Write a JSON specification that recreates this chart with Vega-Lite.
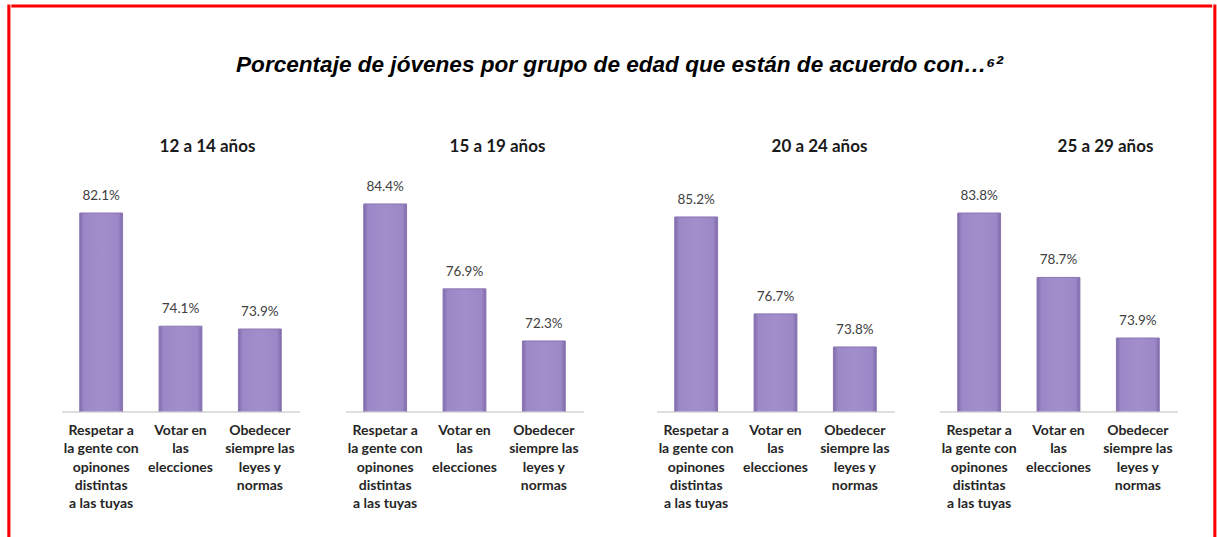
{
  "$schema": "https://vega.github.io/schema/vega-lite/v6.json",
  "background": "white",
  "padding": {"left": 6.8, "top": 4, "right": 0, "bottom": 0},
  "data": {"values": [
    {"grupo": "12 a 14 años", "item": "Respetar a la gente con opinones distintas a las tuyas", "valor": 0.821},
    {"grupo": "12 a 14 años", "item": "Votar en las elecciones", "valor": 0.741},
    {"grupo": "12 a 14 años", "item": "Obedecer siempre las leyes y normas", "valor": 0.739},
    {"grupo": "15 a 19 años", "item": "Respetar a la gente con opinones distintas a las tuyas", "valor": 0.844},
    {"grupo": "15 a 19 años", "item": "Votar en las elecciones", "valor": 0.769},
    {"grupo": "15 a 19 años", "item": "Obedecer siempre las leyes y normas", "valor": 0.723},
    {"grupo": "20 a 24 años", "item": "Respetar a la gente con opinones distintas a las tuyas", "valor": 0.852},
    {"grupo": "20 a 24 años", "item": "Votar en las elecciones", "valor": 0.767},
    {"grupo": "20 a 24 años", "item": "Obedecer siempre las leyes y normas", "valor": 0.738},
    {"grupo": "25 a 29 años", "item": "Respetar a la gente con opinones distintas a las tuyas", "valor": 0.838},
    {"grupo": "25 a 29 años", "item": "Votar en las elecciones", "valor": 0.787},
    {"grupo": "25 a 29 años", "item": "Obedecer siempre las leyes y normas", "valor": 0.739}
  ]},
  "spacing": 0,
  "hconcat": [
    {"data": {"values": []}, "mark": "point", "width": 0.1, "height": 530, "view": {"stroke": "#ff0000", "strokeWidth": 3}},
    {
      "spacing": 46,
      "vconcat": [
        {"data": {"values": []}, "mark": "point", "width": 1197.9, "height": 0.1, "view": {"stroke": "#ff0000", "strokeWidth": 3}},
        {
          "spacing": 47.7,
          "hconcat": [
            {"data": {"values": []}, "mark": "point", "width": 0.1, "height": 1, "view": {"stroke": "transparent"}},
            {
              "title": {"text": "Porcentaje de jóvenes por grupo de edad que están de acuerdo con…⁶²", "font": "Liberation Sans", "fontSize": 22.6, "fontStyle": "italic", "fontWeight": "bold", "color": "#000000", "anchor": "middle", "offset": 61},
              "spacing": 73,
              "hconcat": [
                {
                  "spacing": 46,
                  "hconcat": [
                    {
                      "width": 238, "height": 240.5,
                      "title": {"text": "12 a 14 años", "dx": 27},
                      "transform": [{"filter": "datum.grupo == '12 a 14 años'"}],
                      "encoding": {"x": {"field": "item", "type": "nominal", "sort": null, "scale": {"paddingInner": 0.46, "paddingOuter": 0.23},
                        "axis": {"labelExpr": "datum.value == 'Votar en las elecciones' ? ['Votar en', 'las', 'elecciones'] : datum.value == 'Obedecer siempre las leyes y normas' ? ['Obedecer', 'siempre las', 'leyes y', 'normas'] : ['Respetar a', 'la gente con', 'opinones', 'distintas', 'a las tuyas']"}}},
                      "layer": [
                        {"mark": {"type": "bar", "clip": true, "stroke": "#8a75b4", "strokeWidth": 1, "fill": {"gradient": "linear", "x1": 0, "y1": 0, "x2": 1, "y2": 0, "stops": [{"offset": 0, "color": "#7f6aaa"}, {"offset": 0.1, "color": "#9d88c7"}, {"offset": 0.5, "color": "#a38ecc"}, {"offset": 0.9, "color": "#9d88c7"}, {"offset": 1, "color": "#7f6aaa"}]}},
                          "encoding": {"y": {"field": "valor", "type": "quantitative", "scale": {"domain": [0.6807, 0.8507], "nice": false, "zero": false}, "axis": null}}},
                        {"mark": {"type": "text", "dy": -13, "baseline": "alphabetic", "font": "Lato", "fontSize": 13.5, "color": "#404040"},
                          "encoding": {"y": {"field": "valor", "type": "quantitative"}, "text": {"field": "valor", "type": "quantitative", "format": ".1%"}}}
                      ]
                    },
                    {
                      "width": 238, "height": 240.5,
                      "title": {"text": "15 a 19 años", "dx": 33},
                      "transform": [{"filter": "datum.grupo == '15 a 19 años'"}],
                      "encoding": {"x": {"field": "item", "type": "nominal", "sort": null, "scale": {"paddingInner": 0.46, "paddingOuter": 0.23},
                        "axis": {"labelExpr": "datum.value == 'Votar en las elecciones' ? ['Votar en', 'las', 'elecciones'] : datum.value == 'Obedecer siempre las leyes y normas' ? ['Obedecer', 'siempre las', 'leyes y', 'normas'] : ['Respetar a', 'la gente con', 'opinones', 'distintas', 'a las tuyas']"}}},
                      "layer": [
                        {"mark": {"type": "bar", "clip": true, "stroke": "#8a75b4", "strokeWidth": 1, "fill": {"gradient": "linear", "x1": 0, "y1": 0, "x2": 1, "y2": 0, "stops": [{"offset": 0, "color": "#7f6aaa"}, {"offset": 0.1, "color": "#9d88c7"}, {"offset": 0.5, "color": "#a38ecc"}, {"offset": 0.9, "color": "#9d88c7"}, {"offset": 1, "color": "#7f6aaa"}]}},
                          "encoding": {"y": {"field": "valor", "type": "quantitative", "scale": {"domain": [0.6607, 0.8731], "nice": false, "zero": false}, "axis": null}}},
                        {"mark": {"type": "text", "dy": -13, "baseline": "alphabetic", "font": "Lato", "fontSize": 13.5, "color": "#404040"},
                          "encoding": {"y": {"field": "valor", "type": "quantitative"}, "text": {"field": "valor", "type": "quantitative", "format": ".1%"}}}
                      ]
                    }
                  ]
                },
                {
                  "spacing": 45,
                  "hconcat": [
                    {
                      "width": 238, "height": 240.5,
                      "title": {"text": "20 a 24 años", "dx": 44},
                      "transform": [{"filter": "datum.grupo == '20 a 24 años'"}],
                      "encoding": {"x": {"field": "item", "type": "nominal", "sort": null, "scale": {"paddingInner": 0.46, "paddingOuter": 0.23},
                        "axis": {"labelExpr": "datum.value == 'Votar en las elecciones' ? ['Votar en', 'las', 'elecciones'] : datum.value == 'Obedecer siempre las leyes y normas' ? ['Obedecer', 'siempre las', 'leyes y', 'normas'] : ['Respetar a', 'la gente con', 'opinones', 'distintas', 'a las tuyas']"}}},
                      "layer": [
                        {"mark": {"type": "bar", "clip": true, "stroke": "#8a75b4", "strokeWidth": 1, "fill": {"gradient": "linear", "x1": 0, "y1": 0, "x2": 1, "y2": 0, "stops": [{"offset": 0, "color": "#7f6aaa"}, {"offset": 0.1, "color": "#9d88c7"}, {"offset": 0.5, "color": "#a38ecc"}, {"offset": 0.9, "color": "#9d88c7"}, {"offset": 1, "color": "#7f6aaa"}]}},
                          "encoding": {"y": {"field": "valor", "type": "quantitative", "scale": {"domain": [0.6814, 0.8923], "nice": false, "zero": false}, "axis": null}}},
                        {"mark": {"type": "text", "dy": -13, "baseline": "alphabetic", "font": "Lato", "fontSize": 13.5, "color": "#404040"},
                          "encoding": {"y": {"field": "valor", "type": "quantitative"}, "text": {"field": "valor", "type": "quantitative", "format": ".1%"}}}
                      ]
                    },
                    {
                      "width": 238, "height": 240.5,
                      "title": {"text": "25 a 29 años", "dx": 47},
                      "transform": [{"filter": "datum.grupo == '25 a 29 años'"}],
                      "encoding": {"x": {"field": "item", "type": "nominal", "sort": null, "scale": {"paddingInner": 0.46, "paddingOuter": 0.23},
                        "axis": {"labelExpr": "datum.value == 'Votar en las elecciones' ? ['Votar en', 'las', 'elecciones'] : datum.value == 'Obedecer siempre las leyes y normas' ? ['Obedecer', 'siempre las', 'leyes y', 'normas'] : ['Respetar a', 'la gente con', 'opinones', 'distintas', 'a las tuyas']"}}},
                      "layer": [
                        {"mark": {"type": "bar", "clip": true, "stroke": "#8a75b4", "strokeWidth": 1, "fill": {"gradient": "linear", "x1": 0, "y1": 0, "x2": 1, "y2": 0, "stops": [{"offset": 0, "color": "#7f6aaa"}, {"offset": 0.1, "color": "#9d88c7"}, {"offset": 0.5, "color": "#a38ecc"}, {"offset": 0.9, "color": "#9d88c7"}, {"offset": 1, "color": "#7f6aaa"}]}},
                          "encoding": {"y": {"field": "valor", "type": "quantitative", "scale": {"domain": [0.6808, 0.8713], "nice": false, "zero": false}, "axis": null}}},
                        {"mark": {"type": "text", "dy": -13, "baseline": "alphabetic", "font": "Lato", "fontSize": 13.5, "color": "#404040"},
                          "encoding": {"y": {"field": "valor", "type": "quantitative"}, "text": {"field": "valor", "type": "quantitative", "format": ".1%"}}}
                      ]
                    }
                  ]
                }
              ]
            }
          ]
        }
      ]
    },
    {"data": {"values": []}, "mark": "point", "width": 0.1, "height": 530, "view": {"stroke": "#ff0000", "strokeWidth": 3}}
  ],
  "config": {
    "view": {"stroke": null},
    "font": "Lato",
    "title": {"font": "Lato", "fontSize": 17, "fontWeight": "bold", "color": "#1a1a1a", "offset": 15, "anchor": "middle"},
    "axisX": {"title": null, "labelAngle": 0, "ticks": false, "domainColor": "#bfbfbf", "domainWidth": 1, "labelFont": "Lato", "labelFontWeight": "bold", "labelFontSize": 14, "labelColor": "#262626", "labelLineHeight": 18.3, "labelPadding": 12, "labelLimit": 0}
  }
}
